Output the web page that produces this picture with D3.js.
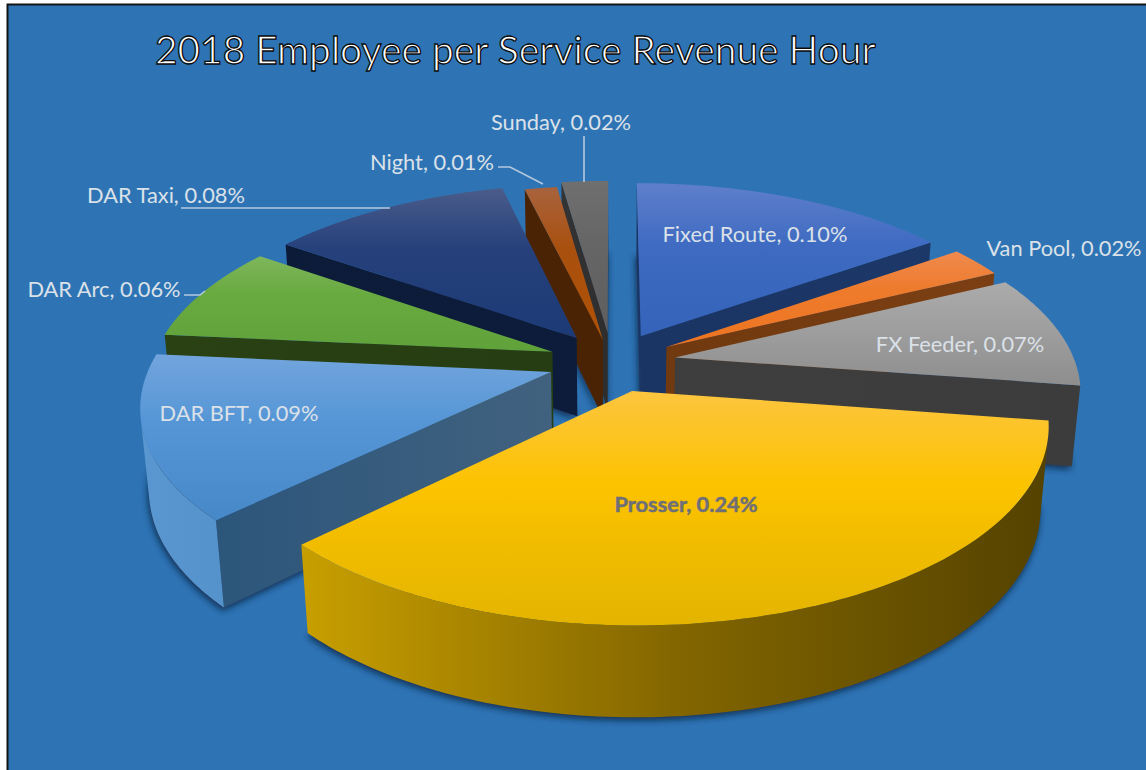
<!DOCTYPE html>
<html>
<head>
<meta charset="utf-8">
<title>2018 Employee per Service Revenue Hour</title>
<script src="https://cdn.jsdelivr.net/npm/d3@7/dist/d3.min.js"></script>
<style>
  html, body { margin: 0; padding: 0; background: #fff; }
  svg { display: block; }
</style>
</head>
<body>
<svg id="chart" width="1146" height="770"></svg>
<script>
// Service categories and their employee-per-revenue-hour percentages
const categories = ["Fixed Route", "Van Pool", "FX Feeder", "Prosser", "DAR BFT", "DAR Arc", "DAR Taxi", "Night", "Sunday"];
const values = [0.1033, 0.0176, 0.065, 0.2405, 0.0935, 0.0557, 0.0784, 0.0104, 0.0151];

// How far each slice is pulled out of the pie, in radii
const explodeBySlice = [0.16, 0.16, 0.16, 0.16, 0.16, 0.16, 0.16, 0.125, 0.16];

// Shading for each slice: top face stops, curved wall stops, straight wall stops
const topShades = [
  ["#5f7fca", "#3f6bc2", "#3463b9"],
  ["#ef8a4e", "#ee7b2c", "#ee7520"],
  ["#ababab", "#a0a0a0", "#8e8e8e"],
  ["#fdc53f", "#fcc300", "#e3b400"],
  ["#72a5dd", "#5696d6", "#4788c8"],
  ["#7fb65c", "#69aa40", "#60a23a"],
  ["#4a5c8a", "#26417c", "#1c3a76"],
  ["#a8633d", "#a9500f", "#b05204"],
  ["#6f6f6f", "#666666", "#5e5e5e"]
];
const curvedWallShades = [
  ["#1b3666", "#1b3666"], ["#7a3e12", "#7a3e12"], ["#3e3e3e", "#3a3a3a"],
  ["#c89f00", "#836600", "#544200"], ["#5a97d0", "#3f7fb9"], ["#2a4114", "#2a4114"],
  ["#0c1c38", "#0c1c38"], ["#4a2305", "#4a2305"], ["#333333", "#333333"]
];
const straightWallShades = [
  ["#1a3463", "#1c3868"], ["#70390f", "#7c3f13"], ["#3e3e3e", "#3c3c3c"],
  ["#8b6d00", "#6a5300"], ["#28537a", "#41627f"], ["#2a4114", "#263c12"],
  ["#0b1b38", "#0c1c3a"], ["#4a2305", "#4a2305"], ["#333333", "#2e2e2e"]
];

// Label placement: centre of text plus optional leader polyline
const labelAnchors = [
  [755, 233], [1064, 247], [960, 343], [686, 503], [239, 412], [104, 288], [166, 194], [432, 161], [561, 121]
];
const leaderLines = [
  null, null, null, null, null,
  [[184, 295], [200, 295], [205, 291]],
  [[181, 208], [390, 208]],
  [[498, 167], [510, 167], [543, 184]],
  [[584, 136], [584, 182]]
];

// Perspective parameters of the tilted pie (radius is 1 in plane units)
const persp = 0.163, depthScale = 0.018;
const cx = 612, cy = 362, scaleU = 400, scaleV = 185.7, thickness = 81;

function project(u, v, z) {
  const w = 1 + persp * v + depthScale * z;
  return [cx + scaleU * u / w, cy + (thickness * z - scaleV * v) / w];
}

const svg = d3.select("#chart");
const defs = svg.append("defs");

defs.append("filter").attr("id", "soft")
  .attr("x", "-20%").attr("y", "-20%").attr("width", "140%").attr("height", "140%")
  .append("feGaussianBlur").attr("stdDeviation", 3.5);

// Background panel with its dark frame
svg.append("rect").attr("x", 7.5).attr("y", 4.5).attr("width", 1160).attr("height", 790)
  .attr("fill", "#2e74b5").attr("stroke", "#141414").attr("stroke-width", 2);

svg.append("text")
  .attr("x", 155).attr("y", 64)
  .attr("font-family", "Lato, 'Open Sans', sans-serif")
  .attr("font-size", 38.9)
  .attr("fill", "#ffffff").attr("stroke", "#0b0b0b").attr("stroke-width", 1.3)
  .text("2018 Employee per Service Revenue Hour");

const pie = d3.pie().sort(null).startAngle(0).endAngle(2 * Math.PI)(values);

const line = d3.line();
const poly = pts => line(pts) + "Z";

const slices = pie.map((p, i) => {
  const mid = (p.startAngle + p.endAngle) / 2;
  return {
    i,
    a0: p.startAngle,
    a1: p.endAngle,
    mid,
    ou: explodeBySlice[i] * Math.sin(mid),
    ov: explodeBySlice[i] * Math.cos(mid)
  };
}).sort((a, b) => d3.descending(Math.cos(a.mid), Math.cos(b.mid)));

const layer = svg.append("g");

function addGradient(id, shades, x1, y1, x2, y2) {
  const grad = defs.append("linearGradient").attr("id", id)
    .attr("gradientUnits", "userSpaceOnUse")
    .attr("x1", x1).attr("y1", y1).attr("x2", x2).attr("y2", y2);
  shades.forEach((c, k) => {
    grad.append("stop").attr("offset", k / (shades.length - 1)).attr("stop-color", c);
  });
  return `url(#${id})`;
}

slices.forEach(s => {
  const arcAngles = d3.range(0, 121).map(k => s.a0 + (s.a1 - s.a0) * k / 120);
  const rim = z => arcAngles.map(a => project(s.ou + Math.sin(a), s.ov + Math.cos(a), z));
  const apex = z => project(s.ou, s.ov, z);
  const topRim = rim(0), botRim = rim(1);
  const topFace = [apex(0), ...topRim];
  const botFace = [apex(1), ...botRim];
  const xDom = d3.extent(topFace.concat(botFace), d => d[0]);
  const yDom = d3.extent(topFace, d => d[1]);

  const g = layer.append("g").attr("class", "slice-" + s.i);

  // Soft contact shadow cast by the underside
  g.append("path")
    .attr("d", poly(botFace.map(d => [d[0] - 1, d[1] + 3])))
    .attr("fill", "#0a2440").attr("opacity", 0.85).attr("filter", "url(#soft)");

  // Straight walls, drawn only where they face the viewer
  const straightFill = addGradient("straight-" + s.i, straightWallShades[s.i], xDom[0], 0, xDom[1], 0);
  [[0, arcAngles[0]], [1, arcAngles[120]]].forEach(([closing, a]) => {
    const outer = z => project(s.ou + Math.sin(a), s.ov + Math.cos(a), z);
    const quad = closing
      ? [outer(0), apex(0), apex(1), outer(1)]
      : [apex(0), outer(0), outer(1), apex(1)];
    if (d3.polygonArea(quad) > 0) {
      g.append("path").attr("d", poly(quad)).attr("fill", straightFill);
    }
  });

  // Curved outer wall: the run of rim steps that face the viewer, as one shape
  const facing = d3.range(0, 120).filter(k =>
    d3.polygonArea([topRim[k], topRim[k + 1], botRim[k + 1], botRim[k]]) > 0);
  if (facing.length) {
    const from = facing[0], to = facing[facing.length - 1] + 1;
    const outline = topRim.slice(from, to + 1).concat(botRim.slice(from, to + 1).reverse());
    const curvedFill = addGradient("curved-" + s.i, curvedWallShades[s.i], xDom[0], 0, xDom[1], 0);
    g.append("path").attr("d", poly(outline)).attr("fill", curvedFill);
  }

  // Top face with a vertical sheen
  const grad = defs.append("linearGradient").attr("id", "top-" + s.i)
    .attr("gradientUnits", "userSpaceOnUse")
    .attr("x1", 0).attr("x2", 0).attr("y1", yDom[0]).attr("y2", yDom[1]);
  topShades[s.i].forEach((c, k) => {
    grad.append("stop").attr("offset", [0, 0.4, 1][k]).attr("stop-color", c);
  });
  g.append("path").attr("d", poly(topFace)).attr("fill", `url(#top-${s.i})`);
});

// Leader lines
leaderLines.forEach(pts => {
  if (!pts) return;
  svg.append("path").attr("d", line(pts)).attr("fill", "none")
    .attr("stroke", "#b4c8de").attr("stroke-width", 1.6);
});

// Category labels, each stating the value of its slice
categories.forEach((name, i) => {
  const isLead = values[i] === d3.max(values);
  svg.append("text")
    .attr("x", labelAnchors[i][0]).attr("y", labelAnchors[i][1])
    .attr("text-anchor", "middle").attr("dominant-baseline", "central")
    .attr("font-family", "Lato, 'Open Sans', sans-serif")
    .attr("font-size", 21.8)
    .attr("font-weight", isLead ? 700 : 400)
    .attr("fill", isLead ? "#6f6f78" : "#dbe1e8")
    .attr("stroke", isLead ? "#6f6f78" : "none").attr("stroke-width", isLead ? 0.5 : 0)
    .text(`${name}, ${d3.format(".2f")(values[i])}%`);
});
</script>
</body>
</html>
